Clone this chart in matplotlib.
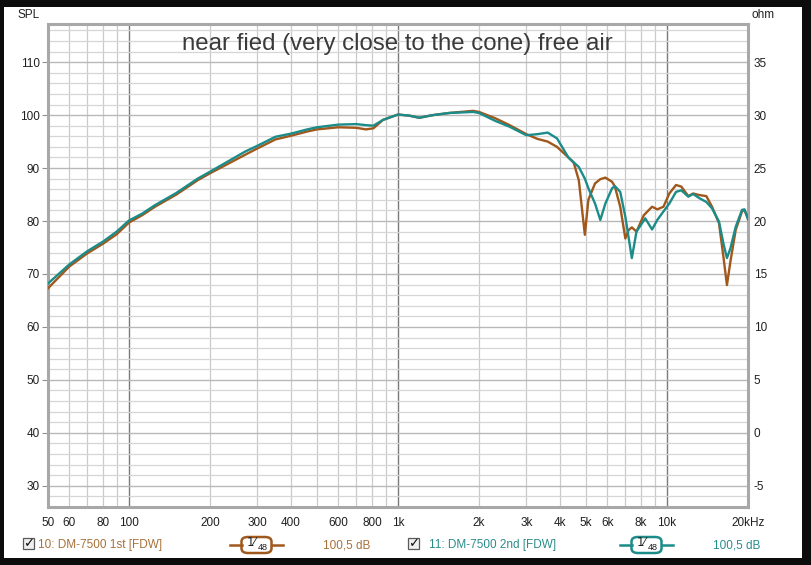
from matplotlib import pyplot as plt
from matplotlib.patches import Rectangle, FancyBboxPatch
from matplotlib.lines import Line2D
import numpy as np

# ---- data ----
freq_1st = [50, 60, 70, 80, 90, 100, 112, 125, 150, 180, 200, 270, 300, 350, 400, 460, 500,
            600, 700, 760, 810, 880, 1000, 1100, 1200, 1350, 1550, 1900, 2000, 2300, 2600,
            3000, 3300, 3600, 3900, 4300, 4500, 4700, 4950, 5100, 5400, 5650, 5900, 6250,
            6400, 6700, 7000, 7200, 7400, 7700, 8200, 8800, 9200, 9700, 10200, 10800, 11300,
            12000, 12500, 13200, 14000, 14700, 15600, 16200, 16700, 17200, 18000, 19000,
            19400, 20000]
spl_1st = [67.3, 71.4, 73.9, 75.7, 77.5, 79.7, 81.1, 82.7, 85.0, 87.7, 89.0, 92.5, 93.7, 95.4,
           96.1, 96.9, 97.3, 97.7, 97.6, 97.3, 97.5, 99.1, 100.1, 99.9, 99.5, 100.0, 100.4,
           100.8, 100.6, 99.4, 98.1, 96.4, 95.5, 95.0, 94.0, 92.0, 91.0, 87.7, 77.4, 84.0,
           87.1, 87.9, 88.2, 87.4, 86.5, 82.7, 76.7, 78.3, 78.8, 78.0, 81.1, 82.7, 82.2, 82.7,
           85.2, 86.8, 86.5, 84.7, 85.2, 84.9, 84.7, 82.7, 79.6, 73.3, 67.9, 72.3, 78.3, 81.8,
           82.1, 80.5]

freq_2nd = [50, 60, 70, 80, 90, 100, 112, 125, 150, 180, 200, 270, 300, 350, 400, 460, 500,
            600, 700, 760, 810, 880, 1000, 1100, 1200, 1350, 1550, 1900, 2000, 2300, 2600,
            3000, 3300, 3600, 3900, 4300, 4700, 4950, 5100, 5400, 5650, 5900, 6250, 6400,
            6700, 7000, 7400, 7700, 8300, 8800, 9200, 9700, 10200, 10800, 11300, 12000,
            12500, 13200, 14000, 14700, 15600, 16200, 16700, 17200, 18000, 19000, 19400, 20000]
spl_2nd = [68.2, 71.8, 74.3, 76.1, 78.0, 80.1, 81.4, 83.0, 85.3, 88.0, 89.3, 93.1, 94.2, 95.9,
           96.5, 97.3, 97.7, 98.2, 98.3, 98.1, 98.0, 99.1, 100.1, 99.9, 99.5, 100.0, 100.4,
           100.6, 100.4, 98.9, 97.8, 96.2, 96.4, 96.7, 95.6, 92.0, 90.2, 88.0, 86.2, 83.3,
           80.2, 83.3, 86.2, 86.6, 85.5, 80.8, 73.0, 78.0, 80.5, 78.4, 80.2, 81.8, 83.3, 85.5,
           85.8, 84.6, 85.1, 84.3, 83.6, 82.4, 79.9, 75.8, 73.0, 74.8, 78.9, 82.1, 82.2, 80.3]

x_ticks = [50, 60, 80, 100, 200, 300, 400, 600, 800, 1000, 2000, 3000, 4000, 5000, 6000,
           8000, 10000, 20000]
x_labels = ['50', '60', '80', '100', '200', '300', '400', '600', '800', '1k', '2k', '3k',
            '4k', '5k', '6k', '8k', '10k', '20kHz']
spl_ticks = [30, 40, 50, 60, 70, 80, 90, 100, 110]
ohm_ticks = [-5, 0, 5, 10, 15, 20, 25, 30, 35]

name_1st = '10: DM-7500 1st [FDW]'
name_2nd = '11: DM-7500 2nd [FDW]'
level_1st = '100,5 dB'
level_2nd = '100,5 dB'

brown = '#a0581c'
teal = '#1b8c8a'
brown_txt = '#a8703a'
teal_txt = '#2a8c8a'

W, H = 811, 565
plt.rcParams['font.family'] = ['Liberation Sans', 'DejaVu Sans']
plt.rcParams['axes.unicode_minus'] = False

fig = plt.figure(figsize=(W / 100, H / 100), dpi=100)
fig.patch.set_facecolor('#0c0c0c')


def fx(px):
    return px / W


def fy(py):
    return 1 - py / H


# white panel inside the black frame
fig.add_artist(Rectangle((fx(4), fy(558)), fx(798), (558 - 7) / H,
                         transform=fig.transFigure, facecolor='white', edgecolor='none', zorder=0))

ax = fig.add_axes([fx(48), fy(507), fx(700), (507 - 24) / H])
ax.set_facecolor('white')
ax.set_xscale('log')
ax.set_xlim(50, 20000)
ax.set_ylim(26, 117.2)

# grid
for dec in [10, 100, 1000, 10000]:
    for m in range(1, 10):
        f = dec * m
        if 50 < f < 20000:
            if m == 1:
                ax.axvline(f, color='#7a7a7a', lw=1.0, zorder=1)
            else:
                ax.axvline(f, color='#cacaca', lw=0.9, zorder=1)
for v in range(28, 118, 2):
    if v % 10 == 0:
        ax.axhline(v, color='#b8b8b8', lw=1.0, zorder=1)
    else:
        ax.axhline(v, color='#d6d6d6', lw=0.9, zorder=1)

ax.plot(freq_1st, spl_1st, color=brown, lw=1.7, zorder=3, solid_joinstyle='round')
ax.plot(freq_2nd, spl_2nd, color=teal, lw=1.7, zorder=4, solid_joinstyle='round')

ax.set_xticks(x_ticks, x_labels)
ax.xaxis.set_minor_locator(plt.NullLocator())
ax.set_yticks(spl_ticks)
ax.tick_params(axis='x', length=0, pad=7, labelsize=8.5, labelcolor='#202020')
ax.tick_params(axis='y', length=4, color='#909090', pad=2, labelsize=8.5, labelcolor='#202020')
for s in ax.spines.values():
    s.set_color('#a8a8a8')
    s.set_linewidth(2.2)

ax2 = ax.twinx()
ax2.set_ylim((26 - 40) / 2, (117.2 - 40) / 2)
ax2.set_yticks(ohm_ticks)
ax2.tick_params(axis='y', length=0, pad=4, labelsize=8.5, labelcolor='#202020')
for s in ax2.spines.values():
    s.set_visible(False)

fig.text(fx(397), fy(50), 'near fied (very close to the cone) free air',
         ha='center', va='baseline', fontsize=17.3, color='#3a3a3a', zorder=5)

fig.text(fx(29), fy(15), 'SPL', ha='center', va='center', fontsize=8.5, color='#202020')
fig.text(fx(752), fy(15), 'ohm', ha='left', va='center', fontsize=8.5, color='#202020')


# legend row
def checkbox(x0):
    fig.add_artist(FancyBboxPatch((fx(x0), fy(549)), fx(11), 11 / H,
                                  boxstyle='square,pad=0', transform=fig.transFigure,
                                  facecolor='#f0f0f0', edgecolor='#5a5a5a', lw=0.9))
    fig.text(fx(x0 + 5.8), fy(543.5), '\u2713', ha='center', va='center', fontsize=9.5,
             color='#101010', family='DejaVu Sans', fontweight='bold')


def smooth_symbol(x0, x1, color):
    xc = (x0 + x1) / 2
    fig.add_artist(Line2D([fx(x0), fx(xc - 15)], [fy(545), fy(545)], transform=fig.transFigure,
                          color=color, lw=1.8))
    fig.add_artist(Line2D([fx(xc + 15), fx(x1)], [fy(545), fy(545)], transform=fig.transFigure,
                          color=color, lw=1.8))
    fig.add_artist(FancyBboxPatch((fx(xc - 15), fy(553)), fx(30), 16 / H,
                                  boxstyle='round,pad=0,rounding_size=0.008',
                                  transform=fig.transFigure, facecolor='white',
                                  edgecolor=color, lw=1.8))
    fig.text(fx(xc - 5), fy(542), '1\u2044', ha='center', va='center', fontsize=8.5,
             color='#202020', family='DejaVu Sans')
    fig.text(fx(xc + 6), fy(547.5), '48', ha='center', va='center', fontsize=6.5,
             color='#202020')


checkbox(23)
fig.text(fx(38), fy(545), name_1st, ha='left', va='center', fontsize=8.5, color=brown_txt)
smooth_symbol(230, 283, brown)
fig.text(fx(323), fy(545), level_1st, ha='left', va='center', fontsize=8.5, color=brown_txt)

checkbox(408)
fig.text(fx(429), fy(545), name_2nd, ha='left', va='center', fontsize=8.5, color=teal_txt)
smooth_symbol(620, 673, teal)
fig.text(fx(713), fy(545), level_2nd, ha='left', va='center', fontsize=8.5, color=teal_txt)

fig.savefig('out.png', dpi=100, facecolor=fig.get_facecolor())
